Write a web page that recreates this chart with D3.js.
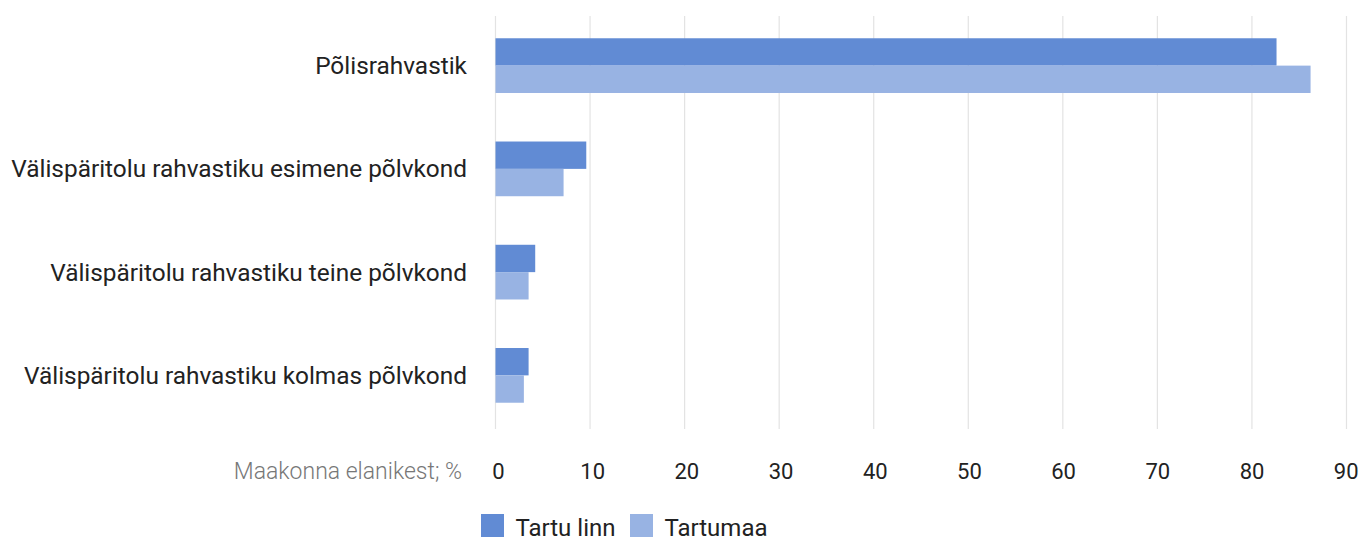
<!DOCTYPE html>
<html>
<head>
<meta charset="utf-8">
<script src="https://cdn.jsdelivr.net/npm/d3@7"></script>
<style>
  body { margin: 0; background: #fff; }
  text { font-family: Roboto, sans-serif; }
</style>
</head>
<body>
<div id="container"></div>
<script>
const WIDTH = 1360;
const HEIGHT = 539;

const categories = [
  'Põlisrahvastik',
  'Välispäritolu rahvastiku esimene põlvkond',
  'Välispäritolu rahvastiku teine põlvkond',
  'Välispäritolu rahvastiku kolmas põlvkond'
];
const seriesNames = ['Tartu linn', 'Tartumaa'];
const tartuLinn = [82.6, 9.6, 4.2, 3.5];
const tartumaa = [86.2, 7.2, 3.5, 3.0];
const ticks = [0, 10, 20, 30, 40, 50, 60, 70, 80, 90];
const colors = ['#618bd4', '#98b3e3'];

const data = categories.map((c, i) => ({ cat: c, values: [tartuLinn[i], tartumaa[i]] }));

const svg = d3.select('#container')
  .append('svg')
    .attr('width', WIDTH)
    .attr('height', HEIGHT);

const x = d3.scaleLinear().domain([0, 90]).range([495.5, 1346.5]);
// tick labels sit a touch right of the gridlines near zero
const xLabel = d3.scaleLinear().domain([0, 80]).range([498.5, 1252]);
const y = d3.scaleBand().domain(categories).range([14, 427])
  .paddingInner(0.47).paddingOuter(0.235);
const ySub = d3.scaleBand().domain([0, 1]).range([0, y.bandwidth()]);

// gridlines
svg.append('g')
  .selectAll('line')
  .data(ticks)
  .enter()
  .append('line')
    .attr('x1', d => x(d))
    .attr('x2', d => x(d))
    .attr('y1', 16)
    .attr('y2', 429)
    .attr('stroke', '#e3e3e3')
    .attr('stroke-width', 1.2);

// bars
const groups = svg.append('g')
  .selectAll('g')
  .data(data)
  .enter()
  .append('g')
    .attr('transform', d => `translate(0, ${y(d.cat)})`);

groups.selectAll('rect')
  .data(d => d.values)
  .enter()
  .append('rect')
    .attr('x', x(0))
    .attr('y', (d, i) => ySub(i))
    .attr('width', d => x(d) - x(0))
    .attr('height', ySub.bandwidth())
    .attr('fill', (d, i) => colors[i]);

// category labels
svg.append('g')
  .selectAll('text')
  .data(categories)
  .enter()
  .append('text')
    .attr('x', 467)
    .attr('y', d => y(d) + y.bandwidth() / 2)
    .attr('dy', '0.35em')
    .attr('text-anchor', 'end')
    .attr('font-size', 24.4)
    .attr('fill', '#222')
    .text(d => d);

// x tick labels
svg.append('g')
  .selectAll('text')
  .data(ticks)
  .enter()
  .append('text')
    .attr('x', d => xLabel(d))
    .attr('y', 471)
    .attr('dy', '0.35em')
    .attr('text-anchor', 'middle')
    .attr('font-size', 22)
    .attr('fill', '#222')
    .text(d => d);

// axis title
svg.append('text')
  .attr('x', 462)
  .attr('y', 471)
  .attr('dy', '0.35em')
  .attr('text-anchor', 'end')
  .attr('font-size', 23)
  .attr('font-weight', 300)
  .attr('fill', '#777')
  .text('Maakonna elanikest; %');

// legend
const legendX = [481, 630];
const legend = svg.append('g')
  .selectAll('g')
  .data(seriesNames)
  .enter()
  .append('g')
    .attr('transform', (d, i) => `translate(${legendX[i]}, 514)`);

legend.append('rect')
  .attr('width', 23)
  .attr('height', 23)
  .attr('fill', (d, i) => colors[i]);

legend.append('text')
  .attr('x', 34.5)
  .attr('y', 22)
  .attr('font-size', 24)
  .attr('fill', '#222')
  .text(d => d);
</script>
</body>
</html>
